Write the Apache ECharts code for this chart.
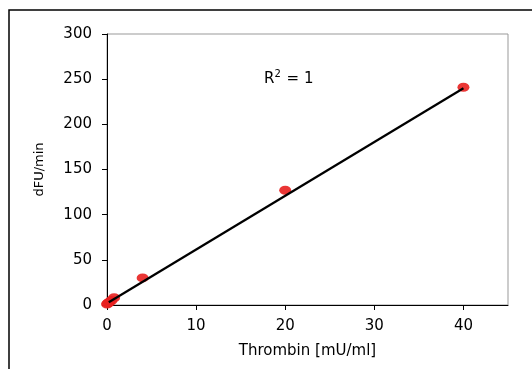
<!DOCTYPE html>
<html>
<head>
<meta charset="utf-8">
<script src="https://cdn.jsdelivr.net/npm/echarts@6/dist/echarts.min.js"></script>
<style>
  html, body { margin: 0; padding: 0; background: #fff; }
  #chart { width: 532px; height: 369px; }
</style>
</head>
<body>
<div id="chart"></div>
<script>
// measured points: thrombin concentration vs. rate
const thrombin = [0, 0.1, 0.25, 0.5, 0.8, 4, 20, 40];
const dfuPerMin = [1, 2, 3, 5, 8, 30, 127, 241];
// linear fit endpoints
const fitX = [0.2, 40];
const fitY = [3, 240];
const xTicks = [0, 10, 20, 30, 40];

const font = 'DejaVu Sans';
const chart = echarts.init(document.getElementById('chart'));

chart.setOption({
  animation: false,
  backgroundColor: '#fff',
  grid: {
    left: 107, top: 34, right: 24, bottom: 64,
    show: true, borderColor: '#999', borderWidth: 1
  },
  graphic: [{
    type: 'rect',
    shape: { x: 9, y: 10, width: 600, height: 400 },
    style: { fill: 'none', stroke: '#000', lineWidth: 1.5 }
  }, {
    type: 'text',
    left: 264, top: 69,
    style: {
      text: '{b|R}{s|2}{b| = 1}',
      rich: {
        b: { fontFamily: font, fontSize: 15, fill: '#000', verticalAlign: 'bottom' },
        s: { fontFamily: font, fontSize: 10, fill: '#000', verticalAlign: 'top', padding: [0, 1, 8, 0] }
      }
    }
  }],
  xAxis: {
    type: 'value', min: 0, max: 45, interval: 10,
    name: 'Thrombin [mU/ml]', nameLocation: 'middle', nameGap: 39,
    nameTextStyle: { fontFamily: font, fontSize: 15, color: '#000' },
    axisLine: { lineStyle: { color: '#000', width: 1 } },
    axisTick: { show: true, length: 5, lineStyle: { color: '#000' }, customValues: xTicks },
    axisLabel: { fontFamily: font, fontSize: 15, color: '#000', margin: 14, customValues: xTicks },
    splitLine: { show: false }
  },
  yAxis: {
    type: 'value', min: 0, max: 300, interval: 50,
    name: 'dFU/min', nameLocation: 'middle', nameGap: 61, nameRotate: 90,
    nameTextStyle: { fontFamily: font, fontSize: 13, color: '#000' },
    axisLine: { show: true, lineStyle: { color: '#000', width: 1 } },
    axisTick: { show: true, length: 5, lineStyle: { color: '#000' } },
    axisLabel: { fontFamily: font, fontSize: 15, color: '#000', margin: 15 },
    splitLine: { show: false }
  },
  series: [{
    type: 'scatter',
    data: thrombin.map((x, i) => [x, dfuPerMin[i]]),
    symbol: 'circle',
    symbolSize: [12, 9],
    itemStyle: { color: '#e8201f', opacity: 0.9 },
    z: 2
  }, {
    type: 'line',
    data: fitX.map((x, i) => [x, fitY[i]]),
    showSymbol: false,
    lineStyle: { color: '#000', width: 2.2 },
    z: 3
  }]
});
</script>
</body>
</html>
